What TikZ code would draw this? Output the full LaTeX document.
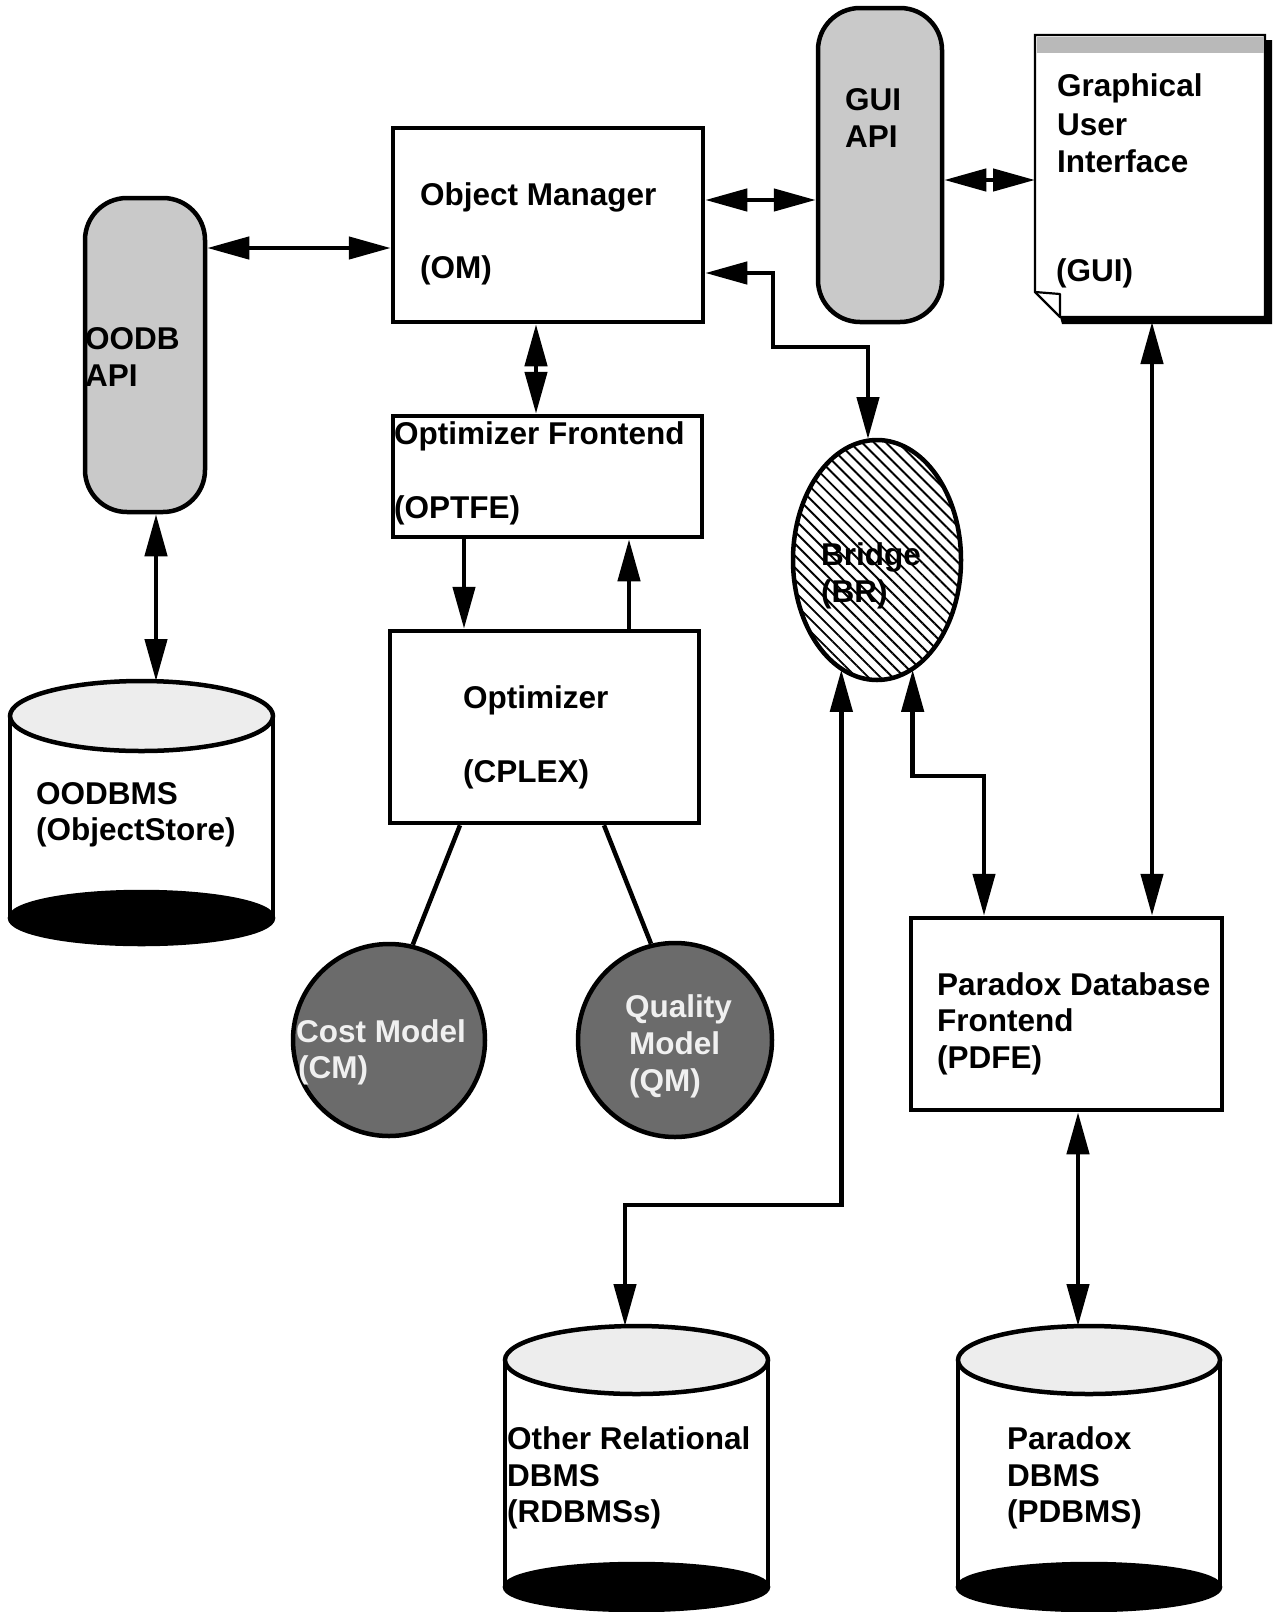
\documentclass[tikz,border=0pt]{standalone}
\usepackage{fontspec}
\setmainfont{Liberation Sans}
\usetikzlibrary{arrows.meta,patterns,patterns.meta,shapes.geometric,calc}
\begin{document}
\begin{tikzpicture}[x=1pt,y=-1pt,
  lw/.style={line width=4.5pt},
  box/.style={rectangle, draw, line width=4.5pt, inner sep=0pt, fill=white},
  apibox/.style={rectangle, draw, line width=4.5pt, rounded corners=42pt, inner sep=0pt, fill=gray!42},
  ball/.style={circle, draw, line width=4.5pt, inner sep=0pt, fill=black!58},
  ghost/.style={rectangle, draw=none, inner sep=0pt, outer sep=0pt},
  lbl/.style={anchor=base west, inner sep=0pt, font=\fontsize{31.5}{37}\selectfont\bfseries},
  lbllight/.style={lbl, text=gray!12},
  conn/.style={line width=4.5pt, {Triangle[length=42pt,width=22pt]}-{Triangle[length=42pt,width=22pt]}},
  oneway/.style={line width=4.5pt, -{Triangle[length=42pt,width=22pt]}},
  plain/.style={line width=4.5pt}
]
\useasboundingbox (0,0) rectangle (1274,1612);
\fill[white] (0,0) rectangle (1274,1612);

% ---- cylinders ----
% OODBMS
\fill[white] (10,716) rectangle (273,918);
\draw[lw] (10,716) -- (10,918) (273,716) -- (273,918);
\draw[lw, fill=black] (141.5,918) ellipse [x radius=131.5, y radius=26];
\draw[lw, fill=gray!14] (141.5,716) ellipse [x radius=131.5, y radius=35];
% RDBMS
\fill[white] (505,1360) rectangle (768,1587);
\draw[lw] (505,1360) -- (505,1587) (768,1360) -- (768,1587);
\draw[lw, fill=black] (636.5,1587) ellipse [x radius=131.5, y radius=23];
\draw[lw, fill=gray!14] (636.5,1360) ellipse [x radius=131.5, y radius=34];
% PDBMS
\fill[white] (958,1360) rectangle (1220,1587);
\draw[lw] (958,1360) -- (958,1587) (1220,1360) -- (1220,1587);
\draw[lw, fill=black] (1089,1587) ellipse [x radius=131, y radius=23];
\draw[lw, fill=gray!14] (1089,1360) ellipse [x radius=131, y radius=34];

% ---- GUI document ----
\fill[black] (1265,40) -- (1272,40) -- (1272,324) -- (1062,324) -- (1060,317) -- (1265,317) -- cycle;
\draw[line width=2.2pt, fill=white] (1035,35) -- (1265,35) -- (1265,317) -- (1060,317) -- (1035,292) -- cycle;
\fill[gray!55] (1036.5,36.5) rectangle (1263.5,53);
\draw[line width=2.2pt, line join=round] (1035,292) -- (1060,294) -- (1060,317);

% ---- shape nodes ----
\node[box, minimum width=310pt, minimum height=194pt] (om) at (548,225) {};
\node[box, minimum width=309pt, minimum height=121pt] (optfe) at (547.5,476.5) {};
\node[box, minimum width=309pt, minimum height=192pt] (opt) at (544.5,727) {};
\node[box, minimum width=311pt, minimum height=192pt] (pdfe) at (1066.5,1014) {};
\node[apibox, minimum width=124pt, minimum height=314pt] (guiapi) at (880,165) {};
\node[apibox, minimum width=120pt, minimum height=314pt] (oodbapi) at (145,355) {};
\node[ellipse, draw, line width=4.5pt, inner sep=0pt, minimum width=168pt, minimum height=240pt,
      pattern={Lines[angle=-45,distance=8.5pt,line width=1.9pt]}] (bridge) at (877,560) {};
\node[ball, minimum size=192pt] (cm) at (389,1040) {};
\node[ball, minimum size=194pt] (qm) at (675,1040) {};
\node[ghost, minimum width=235pt, minimum height=287pt] (gui) at (1152.5,178.5) {};
\node[ghost, minimum width=263pt, minimum height=263pt] (oodbms) at (141.5,812.5) {};
\node[ghost, minimum width=263pt, minimum height=286pt] (rdbms) at (636.5,1469) {};
\node[ghost, minimum width=262pt, minimum height=286pt] (pdbms) at (1089,1469) {};

% ---- connectors ----
\draw[conn] (oodbapi.east |- 0,248) -- (om.west |- 0,248);
\draw[conn] (om.east |- 0,200) -- (guiapi.west |- 0,200);
\draw[conn] (guiapi.east |- 0,180) -- (gui.west |- 0,180);
\draw[conn] (om.south -| 536,0) -- (optfe.north -| 536,0);
\draw[oneway] (optfe.south -| 464,0) -- (opt.north -| 464,0);
\draw[oneway] (opt.north -| 629,0) -- (optfe.south -| 629,0);
\draw[conn] (oodbapi.south -| 156,0) -- (oodbms.north -| 156,0);
\draw[conn] (om.east |- 0,273) -| (773,347) -| (bridge.north -| 868,0);
\draw[conn] (bridge.-108) |- (625,1205) -- (rdbms.north -| 625,0);
\draw[conn] (bridge.-72) |- (984,776) -- (pdfe.north -| 984,0);
\draw[conn] (gui.south -| 1152,0) -- (pdfe.north -| 1152,0);
\draw[conn] (pdfe.south -| 1078,0) -- (pdbms.north -| 1078,0);
\draw[plain] (opt.south -| 460,0) -- (cm.76);
\draw[plain] (opt.south -| 604,0) -- (qm.104);

% ---- labels ----
\node[lbl] (tom1) at (420,205) {Object Manager};
\node[lbl] (tom2) at (420,278) {(OM)};
\node[lbl] (tfe1) at (394,444) {Optimizer Frontend};
\node[lbl] (tfe2) at (394,518) {(OPTFE)};
\node[lbl] (top1) at (463,708) {Optimizer};
\node[lbl] (top2) at (463,782) {(CPLEX)};
\node[lbl] (tga1) at (845,110) {GUI};
\node[lbl] (tga2) at (845,147) {API};
\node[lbl] (tg1) at (1057,96) {Graphical};
\node[lbl] (tg2) at (1057,135) {User};
\node[lbl] (tg3) at (1057,172) {Interface};
\node[lbl] (tg4) at (1056,281) {(GUI)};
\node[lbl] (toa1) at (85,349) {OODB};
\node[lbl] (toa2) at (85,386) {API};
\node[lbl] (tbr1) at (821,565) {Bridge};
\node[lbl] (tbr2) at (821,602) {(BR)};
\node[lbl] (tos1) at (36,804) {OODBMS};
\node[lbl] (tos2) at (36,840) {(ObjectStore)};
\node[lbllight] (tcm1) at (296,1042) {Cost Model};
\node[lbllight] (tcm2) at (298,1078) {(CM)};
\node[lbllight] (tqm1) at (625,1017) {Quality};
\node[lbllight] (tqm2) at (629,1054) {Model};
\node[lbllight] (tqm3) at (629,1091) {(QM)};
\node[lbl] (tpf1) at (937,995) {Paradox Database};
\node[lbl] (tpf2) at (937,1031) {Frontend};
\node[lbl] (tpf3) at (937,1068) {(PDFE)};
\node[lbl] (trd1) at (507,1449) {Other Relational};
\node[lbl] (trd2) at (507,1486) {DBMS};
\node[lbl] (trd3) at (507,1522) {(RDBMSs)};
\node[lbl] (tpd1) at (1007,1449) {Paradox};
\node[lbl] (tpd2) at (1007,1486) {DBMS};
\node[lbl] (tpd3) at (1007,1522) {(PDBMS)};
\end{tikzpicture}
\end{document}
